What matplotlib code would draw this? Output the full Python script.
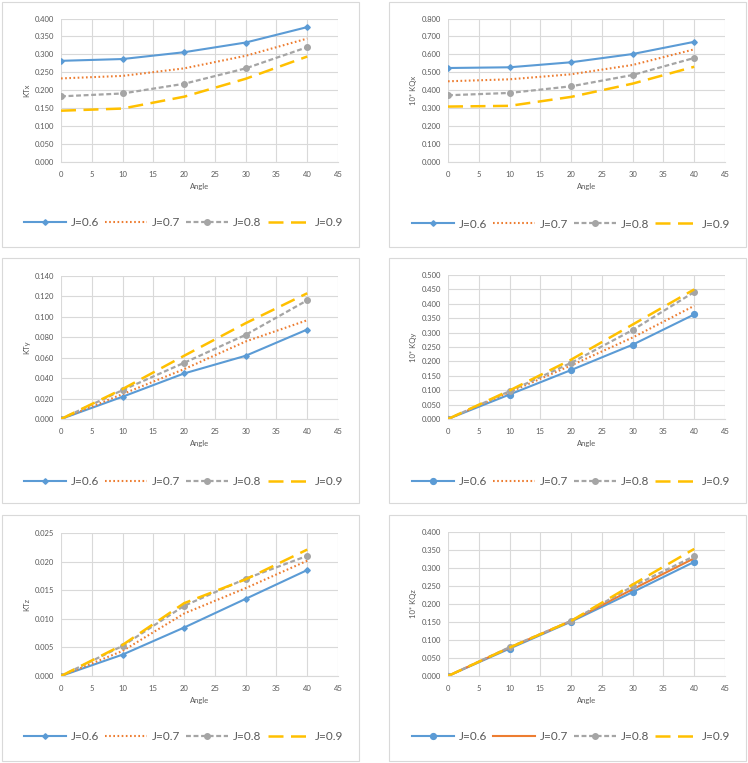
import matplotlib
matplotlib.use("Agg")
import matplotlib.pyplot as plt
from matplotlib.patches import Rectangle

plt.rcParams["font.family"] = ["Lato", "DejaVu Sans"]

angle = [0, 10, 20, 30, 40]
labels = ["J=0.6", "J=0.7", "J=0.8", "J=0.9"]

# one list per J value
ktx = [[0.282, 0.287, 0.306, 0.333, 0.376],
       [0.233, 0.240, 0.261, 0.296, 0.344],
       [0.183, 0.191, 0.218, 0.261, 0.320],
       [0.143, 0.149, 0.182, 0.232, 0.294]]
kqx = [[0.524, 0.528, 0.556, 0.602, 0.670],
       [0.450, 0.461, 0.489, 0.541, 0.628],
       [0.372, 0.385, 0.422, 0.485, 0.580],
       [0.309, 0.313, 0.363, 0.437, 0.531]]
kty = [[0.0, 0.0218, 0.0446, 0.0619, 0.0876],
       [0.0, 0.0244, 0.0488, 0.0759, 0.0967],
       [0.0, 0.0283, 0.0550, 0.0824, 0.1162],
       [0.0, 0.0293, 0.0619, 0.0938, 0.1231]]
kqy = [[0.0, 0.085, 0.170, 0.258, 0.363],
       [0.0, 0.093, 0.186, 0.283, 0.393],
       [0.0, 0.0965, 0.195, 0.309, 0.441],
       [0.0, 0.099, 0.206, 0.328, 0.450]]
ktz = [[0.0, 0.00374, 0.00847, 0.01349, 0.01852],
       [0.0, 0.00438, 0.01092, 0.01536, 0.02015],
       [0.0, 0.00526, 0.01227, 0.01700, 0.02100],
       [0.0, 0.00543, 0.01273, 0.01690, 0.02210]]
kqz = [[0.0, 0.076, 0.151, 0.233, 0.317],
       [0.0, 0.079, 0.153, 0.241, 0.327],
       [0.0, 0.080, 0.153, 0.249, 0.333],
       [0.0, 0.079, 0.153, 0.254, 0.353]]

blue, orange, gray, gold = "#5B9BD5", "#ED7D31", "#A5A5A5", "#FFC000"
txt = "#595959"
grid_c = "#D9D9D9"

W, H = 748, 763
fig = plt.figure(figsize=(W / 100, H / 100), dpi=100)

# panel borders (x0, y0, x1, y1) in pixels
boxes = [(2, 2, 359, 247), (389, 2, 746, 247),
         (2, 258, 359, 503), (389, 258, 746, 503),
         (2, 515, 359, 761), (389, 515, 746, 761)]
for x0, y0, x1, y1 in boxes:
    fig.patches.append(Rectangle((x0 / W, 1 - y1 / H), (x1 - x0) / W, (y1 - y0) / H,
                                 transform=fig.transFigure, fill=False,
                                 edgecolor=grid_c, lw=0.8))

# plot areas and settings
panels = [
    (ktx, 0.4, 0.05, "KTx", (61, 18.5, 338, 162), "D", "dot", 223),
    (kqx, 0.8, 0.1, "10* KQx", (448, 18.5, 725, 162), "D", "dot", 224),
    (kty, 0.14, 0.02, "KTy", (61, 276, 338, 419), "D", "dot", 482),
    (kqy, 0.5, 0.05, "10* KQy", (448, 275, 725, 419), "o", "dot", 482),
    (ktz, 0.025, 0.005, "KTz", (61, 533, 338, 676), "D", "dot", 737),
    (kqz, 0.4, 0.05, "10* KQz", (448, 532, 725, 676), "o", "solid", 737),
]

for data, ymax, ystep, ylab, (x0, y0, x1, y1), m06, style07, leg_y in panels:
    ax = fig.add_axes([x0 / W, 1 - y1 / H, (x1 - x0) / W, (y1 - y0) / H])
    if m06 == "D":
        ax.plot(angle, data[0], color=blue, lw=1.5, marker="D", ms=2.8, label=labels[0])
    else:
        ax.plot(angle, data[0], color=blue, lw=1.5, marker="o", ms=4.2, label=labels[0])
    if style07 == "dot":
        ax.plot(angle, data[1], color=orange, lw=1.5, ls=(0, (0.8, 1.2)), label=labels[1])
    else:
        ax.plot(angle, data[1], color=orange, lw=1.5, label=labels[1])
    ax.plot(angle, data[2], color=gray, lw=1.6, ls=(0, (2.2, 1.2)), marker="o", ms=4.0,
            label=labels[2])
    ax.plot(angle, data[3], color=gold, lw=1.8, ls=(0, (6, 3)), label=labels[3])

    ax.set_xlim(0, 45)
    ax.set_ylim(0, ymax)
    ax.set_xticks(range(0, 46, 5))
    nt = int(round(ymax / ystep))
    ax.set_yticks([i * ystep for i in range(nt + 1)])
    ax.yaxis.set_major_formatter(plt.FormatStrFormatter("%.3f"))
    ax.grid(True, color=grid_c, lw=0.8)
    ax.set_axisbelow(True)
    for s in ["top", "right", "left"]:
        ax.spines[s].set_visible(False)
    ax.spines["bottom"].set_color(grid_c)
    ax.tick_params(length=0, labelsize=5.5, colors=txt)
    ax.tick_params(axis="x", pad=6.5)
    ax.tick_params(axis="y", pad=5)
    ax.set_xlabel("Angle", fontsize=5.5, color=txt)
    ax.set_ylabel(ylab, fontsize=5.5, color=txt)
    ax.xaxis.set_label_coords(0.5, -21 / (y1 - y0))
    ax.yaxis.set_label_coords((x0 - 31) / (x1 - x0) - x0 / (x1 - x0), 0.5)

    cx = 183.5 if x0 < 300 else 571
    ax.legend(loc="center", bbox_to_anchor=(cx / W, 1 - leg_y / H),
              bbox_transform=fig.transFigure, ncol=4, frameon=False,
              fontsize=8.5, handlelength=3.55, handletextpad=0.42,
              columnspacing=0.5, labelcolor=txt, borderpad=0)

fig.savefig("out.png", dpi=100, facecolor="white")
